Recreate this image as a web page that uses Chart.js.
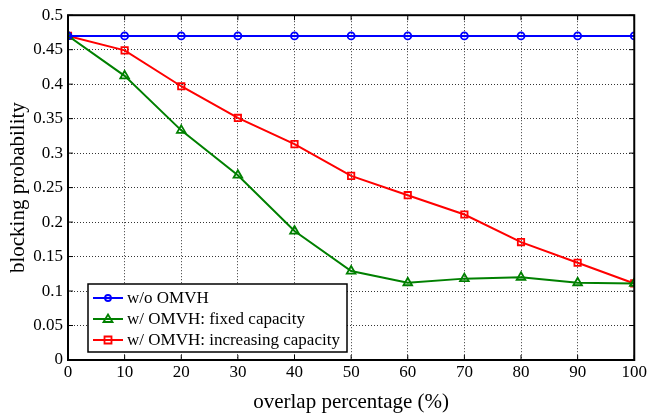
<!DOCTYPE html>
<html><head><meta charset="utf-8">
<script src="https://cdn.jsdelivr.net/npm/chart.js@4/dist/chart.umd.min.js"></script>
<style>html,body{margin:0;padding:0;background:#fff}#wrap{width:649px;height:415px}</style>
</head><body><div id="wrap"><canvas id="c"></canvas></div>
<script>
const overlap = [0,10,20,30,40,50,60,70,80,90,100];
const withoutOMVH = [0.47,0.47,0.47,0.47,0.47,0.47,0.47,0.47,0.47,0.47,0.47];
const fixedCapacity = [0.47,0.412,0.333,0.268,0.187,0.129,0.112,0.118,0.120,0.112,0.111];
const increasingCapacity = [0.47,0.449,0.397,0.351,0.313,0.267,0.239,0.211,0.171,0.141,0.111];
const seriesNames = ['w/o OMVH','w/ OMVH: fixed capacity','w/ OMVH: increasing capacity'];
const yTicks = [0,0.05,0.1,0.15,0.2,0.25,0.3,0.35,0.4,0.45,0.5];

const FONT = '"Liberation Serif", "Times New Roman", serif';
const toXY = a => a.map((v,i)=>({x:overlap[i], y:v}));

const frame = {
  id:'frame',
  afterDatasetsDraw(chart){
    const {ctx, chartArea:a, scales} = chart;
    ctx.save();
    ctx.strokeStyle='#000'; ctx.lineWidth=1;
    ctx.beginPath();
    scales.x.ticks.forEach(t=>{const px=scales.x.getPixelForValue(t.value);
      ctx.moveTo(px,a.bottom); ctx.lineTo(px,a.bottom-5);
      ctx.moveTo(px,a.top); ctx.lineTo(px,a.top+5);});
    scales.y.ticks.forEach(t=>{const py=scales.y.getPixelForValue(t.value);
      ctx.moveTo(a.left,py); ctx.lineTo(a.left+5,py);
      ctx.moveTo(a.right,py); ctx.lineTo(a.right-5,py);});
    ctx.stroke();
    ctx.lineWidth=2;
    ctx.strokeRect(a.left,a.top,a.right-a.left,a.bottom-a.top);
    // legend
    const lx=88, ly=284, lw=259, lh=68;
    ctx.fillStyle='#fff'; ctx.fillRect(lx,ly,lw,lh);
    ctx.lineWidth=1.5; ctx.strokeStyle='#000'; ctx.strokeRect(lx,ly,lw,lh);
    ctx.font='17px '+FONT; ctx.textBaseline='middle'; ctx.textAlign='left';
    chart.data.datasets.forEach((ds,i)=>{
      const y=ly+14+i*21;
      ctx.strokeStyle=ds.borderColor; ctx.lineWidth=2;
      ctx.beginPath(); ctx.moveTo(lx+5,y); ctx.lineTo(lx+35,y); ctx.stroke();
      const cx=lx+20;
      ctx.lineWidth=1.8;
      ctx.beginPath();
      if(ds.pointStyle==='circle'){ctx.arc(cx,y,3,0,Math.PI*2);}
      else if(ds.pointStyle==='triangle'){ctx.moveTo(cx,y-4.5);ctx.lineTo(cx+4.5,y+3);ctx.lineTo(cx-4.5,y+3);ctx.closePath();}
      else {ctx.rect(cx-3.5,y-3.5,7,7);}
      ctx.stroke();
      ctx.fillStyle='#000'; ctx.fillText(seriesNames[i], lx+39, y+1);
    });
    ctx.restore();
  }
};

new Chart(document.getElementById('c'), {
  type:'line',
  data:{datasets:[
    {label:seriesNames[0], data:toXY(withoutOMVH), borderColor:'#0000ff', backgroundColor:'rgba(255,255,255,0)', pointStyle:'circle', pointRadius:3.5, pointBorderWidth:1.8, borderWidth:2, tension:0},
    {label:seriesNames[1], data:toXY(fixedCapacity), borderColor:'#008000', backgroundColor:'rgba(255,255,255,0)', pointStyle:'triangle', pointRadius:5, pointBorderWidth:1.8, borderWidth:2, tension:0},
    {label:seriesNames[2], data:toXY(increasingCapacity), borderColor:'#ff0000', backgroundColor:'rgba(255,255,255,0)', pointStyle:'rect', pointRadius:4.5, pointBorderWidth:1.8, borderWidth:2, tension:0}
  ]},
  options:{
    responsive:true, maintainAspectRatio:false, animation:false,
    layout:{padding:{top:13,right:14,left:6,bottom:0}},
    plugins:{legend:{display:false}, tooltip:{enabled:false}},
    scales:{
      x:{type:'linear', min:0, max:100,
        afterBuildTicks(s){s.ticks=overlap.map(v=>({value:v}));},
        afterFit(s){s.height=55;},
        ticks:{color:'#000', font:{family:FONT,size:17}, padding:2, maxRotation:0, autoSkip:false},
        grid:{color:'#000', lineWidth:0.8, drawTicks:false, tickLength:0},
        border:{display:false, dash:[1,2]},
        title:{display:true, text:'overlap percentage (%)', color:'#000', font:{family:FONT,size:21}, padding:{top:0,bottom:0}}
      },
      y:{type:'linear', min:0, max:0.5,
        afterBuildTicks(s){s.ticks=yTicks.map(v=>({value:v}));},
        afterFit(s){s.width=62;},
        ticks:{color:'#000', font:{family:FONT,size:17}, padding:5, callback:v=>String(v)},
        grid:{color:'#000', lineWidth:0.8, drawTicks:false, tickLength:0},
        border:{display:false, dash:[1,2]},
        title:{display:true, text:'blocking probability', color:'#000', font:{family:FONT,size:21}, padding:{top:0,bottom:0}}
      }
    }
  },
  plugins:[frame]
});
</script></body></html>
